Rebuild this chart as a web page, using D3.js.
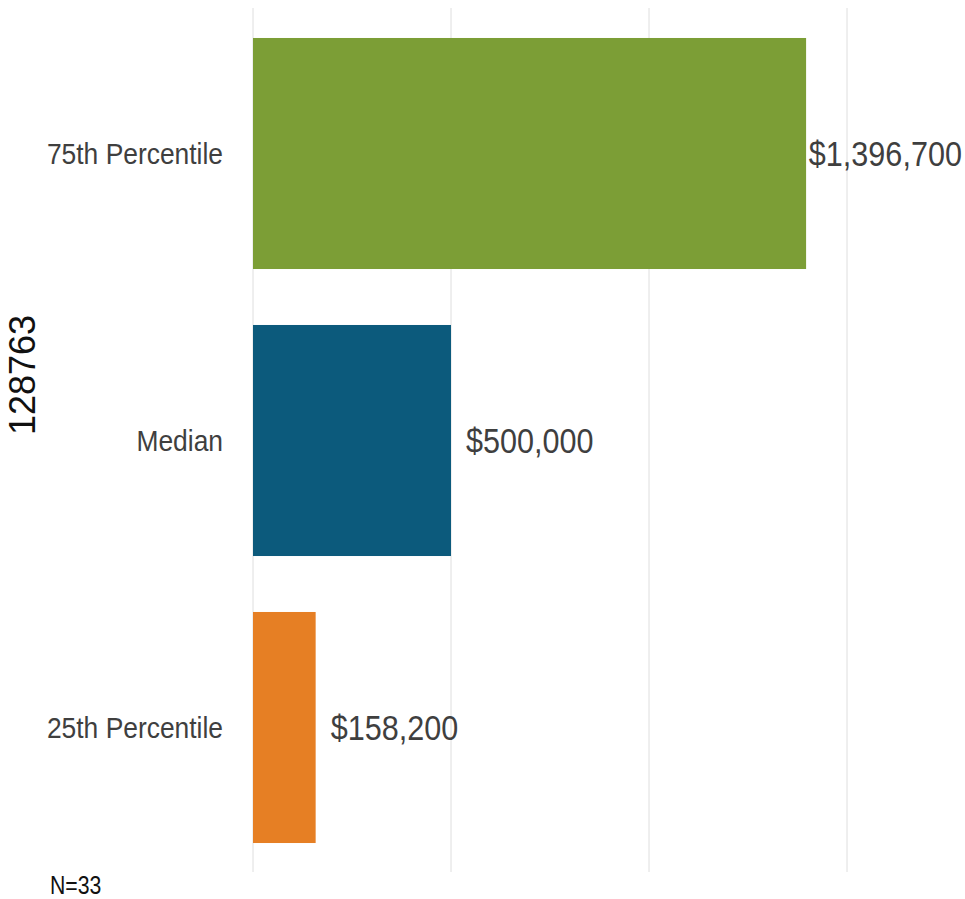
<!DOCTYPE html>
<html>
<head>
<meta charset="utf-8">
<script src="https://cdn.jsdelivr.net/npm/d3@7"></script>
<style>
  html, body { margin: 0; padding: 0; background: #ffffff; }
  svg { display: block; font-family: "Liberation Sans", Arial, sans-serif; }
</style>
</head>
<body>
<svg id="chart" width="965" height="899"></svg>
<script>
// Percentile breakdown for a single group
const categories = ["75th Percentile", "Median", "25th Percentile"];
const values = [1396700, 500000, 158200];
const barColors = ["#7c9e36", "#0c5a7c", "#e67f24"];
const gridTicks = [0, 500000, 1000000, 1500000];
const groupTitle = "128763";
const sampleNote = "N=33";

const W = 965, H = 899;
const svg = d3.select("#chart");

// horizontal compression used by the chart's typography
const squeeze = 0.85;
const labelSqueeze = 0.88;

const x = d3.scaleLinear().domain([0, 1500000]).range([253, 847]);
const y = d3.scaleBand().domain(categories).range([10, 871])
  .paddingInner(0.195).paddingOuter(0.0975);

// vertical gridlines
svg.append("g")
  .selectAll("line")
  .data(gridTicks)
  .join("line")
  .attr("x1", d => x(d)).attr("x2", d => x(d))
  .attr("y1", 8).attr("y2", 872)
  .attr("stroke", "#dedede")
  .attr("stroke-width", 1);

// bars
svg.append("g")
  .selectAll("rect")
  .data(values)
  .join("rect")
  .attr("x", x(0))
  .attr("y", (d, i) => y(categories[i]))
  .attr("width", d => x(d) - x(0))
  .attr("height", y.bandwidth())
  .attr("fill", (d, i) => barColors[i]);

// category labels
svg.append("g")
  .selectAll("text")
  .data(categories)
  .join("text")
  .attr("transform", d => `translate(223,${y(d) + y.bandwidth() / 2}) scale(${labelSqueeze},1)`)
  .attr("text-anchor", "end")
  .attr("dy", "0.36em")
  .attr("font-size", 30)
  .attr("fill", "#3f3f3f")
  .text(d => d);

// value labels, kept inside the canvas
const fmt = d3.format("$,.0f");
const valueLabels = svg.append("g")
  .selectAll("text")
  .data(values)
  .join("text")
  .attr("text-anchor", "start")
  .attr("dy", "0.36em")
  .attr("font-size", 36)
  .attr("fill", "#3f3f3f")
  .text(d => fmt(d));

valueLabels.each(function(d, i) {
  const w = this.getComputedTextLength() * squeeze;
  const lx = Math.min(x(d) + 15, W - 3 - w);
  const ly = y(categories[i]) + y.bandwidth() / 2;
  d3.select(this).attr("transform", `translate(${lx},${ly}) scale(${squeeze},1)`);
});

// group title on the left
svg.append("text")
  .attr("transform", "translate(35,375) rotate(-90)")
  .attr("text-anchor", "middle")
  .attr("font-size", 36)
  .attr("fill", "#111111")
  .text(groupTitle);

// sample size note
svg.append("text")
  .attr("transform", `translate(50,894) scale(${squeeze},1)`)
  .attr("font-size", 25)
  .attr("fill", "#111111")
  .text(sampleNote);
</script>
</body>
</html>
